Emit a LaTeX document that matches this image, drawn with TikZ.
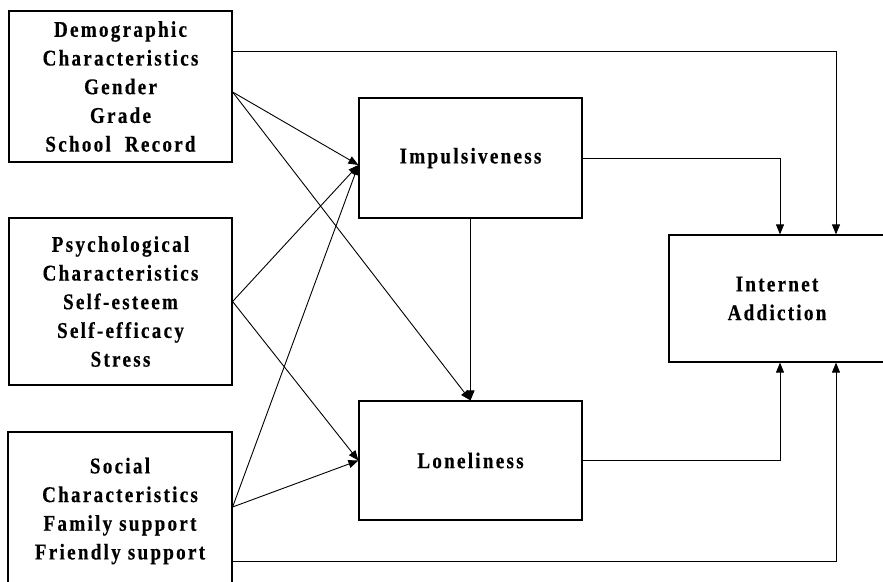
\documentclass[tikz,border=0pt]{standalone}
\usepackage{fontspec}
\newfontfamily\boxfont{Liberation Serif}[FakeStretch=0.85, LetterSpace=10, FakeBold=0.4]
\usetikzlibrary{arrows.meta,positioning}

\begin{document}
\begin{tikzpicture}[x=1pt, y=-1pt,
    factor/.style={rectangle, draw, line width=1.2pt, align=center, inner sep=0pt,
        font=\boxfont\bfseries\fontsize{22.5}{28.7}\selectfont},
    arrow/.style={-{Triangle[length=10pt, width=8pt]}, line width=0.9pt}
]
\useasboundingbox (0,0) rectangle (883,581);

% Predictors
\node[factor, minimum width=223, minimum height=151] (demo) at (120.5, 86.5) {Demographic\\Characteristics\\Gender\\Grade\\School\ \ Record};
\node[factor, minimum width=223, minimum height=167] (psych) at (120.5, 301.5) {Psychological\\Characteristics\\Self-esteem\\Self-efficacy\\Stress};
\node[factor, minimum width=224, minimum height=158] (soc) at (120, 511) {Social\\Characteristics\\Family support\\Friendly support};

% Mediators
\node[factor, minimum width=223, minimum height=120] (imp) at (470.5, 158) {Impulsiveness};
\node[factor, minimum width=223, minimum height=119] (lone) at (470.5, 460.5) {Loneliness};

% Outcome
\node[factor, minimum width=216, minimum height=127] (ia) at (777, 298.5) {Internet\\Addiction};

% Predictors to mediators
\draw[arrow] ([yshift=-5.5]demo.east) -- ([yshift=-7]imp.west);
\draw[arrow] ([yshift=-5.5]demo.east) -- (lone.north);
\draw[arrow] (psych.east) -- ([yshift=-7]imp.west);
\draw[arrow] (psych.east) -- (lone.west);
\draw[arrow] ([yshift=4]soc.east) -- ([yshift=-7]imp.west);
\draw[arrow] ([yshift=4]soc.east) -- (lone.west);

% Mediator path
\draw[arrow] (imp.south) -- (lone.north);

% Paths to outcome
\draw[arrow] (imp.east) -| ([xshift=3]ia.north);
\draw[arrow] ([yshift=35.5]demo.east) -| ([xshift=59]ia.north);
\draw[arrow] (lone.east) -| ([xshift=3]ia.south);
\draw[arrow] ([yshift=-50]soc.east) -| ([xshift=59]ia.south);

\end{tikzpicture}
\end{document}
